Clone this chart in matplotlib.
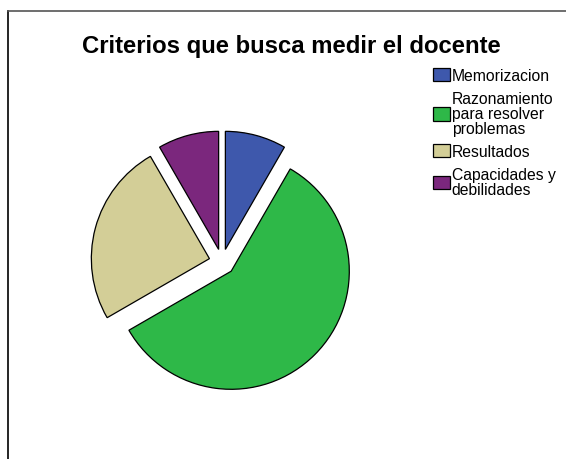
import matplotlib.pyplot as plt
from matplotlib.lines import Line2D

# data (counts out of 12)
categories = ['Memorizacion', 'Razonamiento\npara resolver\nproblemas',
              'Resultados', 'Capacidades y\ndebilidades']
values = [1, 7, 3, 1]
colors = ['#3E58AC', '#2EB848', '#D3CE97', '#7B277D']

plt.rcParams['font.family'] = ['Liberation Sans', 'DejaVu Sans']

W, H = 566, 460
fig = plt.figure(figsize=(W / 100, H / 100), dpi=100)

# square axes, 300 px, centred on the pie
cx, cy, side = 222, 263, 300
ax = fig.add_axes([(cx - side / 2) / W, (H - cy - side / 2) / H, side / W, side / H])
wedges, _ = ax.pie(values, colors=colors, startangle=90, counterclock=False,
                   explode=[0.11] * len(values),
                   wedgeprops=dict(edgecolor='black', linewidth=0.9))
ax.set_xlim(-1.27, 1.27)
ax.set_ylim(-1.27, 1.27)
ax.set_aspect('equal')

fig.text(291 / W, 1 - 47 / H, 'Criterios que busca medir el docente',
         ha='center', va='center', fontsize=17.2, fontweight='bold')

leg = fig.legend(wedges, categories, loc='upper left',
                 bbox_to_anchor=(425 / W, 1 - 61 / H), frameon=False,
                 fontsize=11.3, handlelength=1.1, handleheight=0.95,
                 handletextpad=0.1, labelspacing=0.52, borderpad=0)
for t in leg.get_texts():
    t.set_linespacing(0.98)
for p in leg.get_patches():
    p.set_linewidth(0.9)

# outer frame (left and top only)
fig.add_artist(Line2D([8 / W, 8 / W], [0, 1 - 12 / H], color='black', lw=1.2))
fig.add_artist(Line2D([8 / W, 1], [1 - 12 / H, 1 - 12 / H], color='#555555', lw=1.2))

fig.savefig('out.png', dpi=100)
